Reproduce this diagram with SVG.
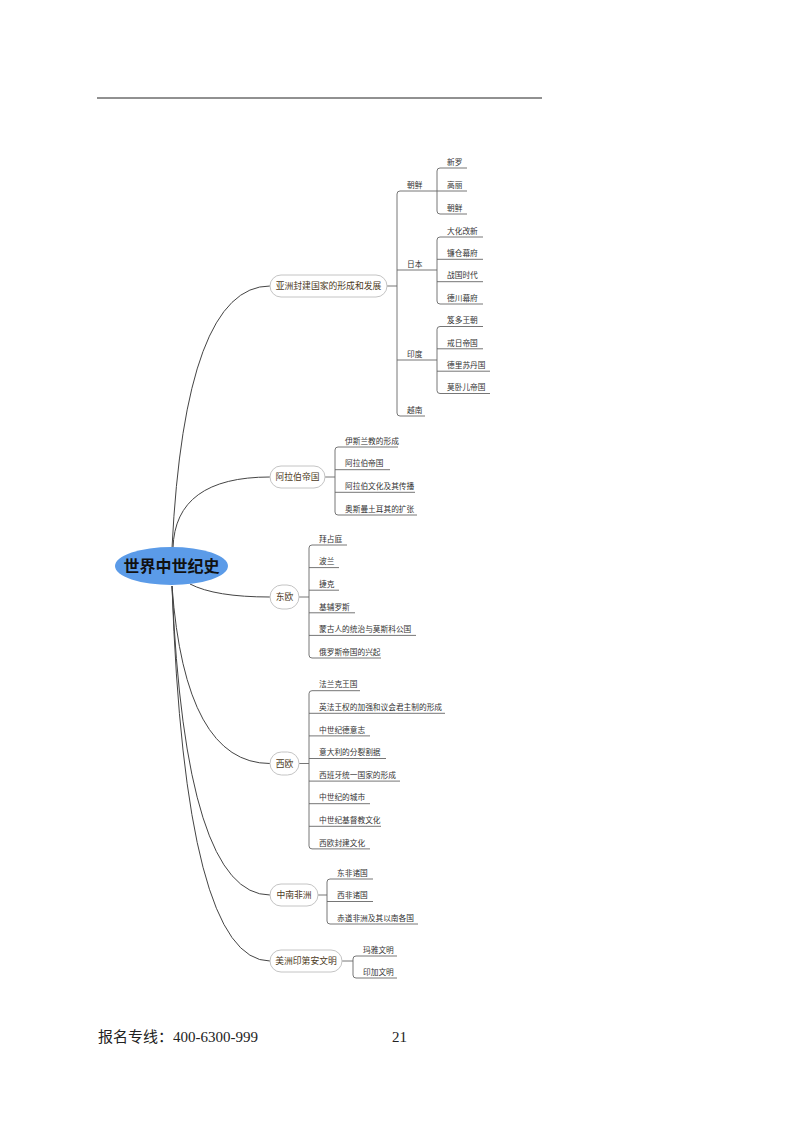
<svg xmlns="http://www.w3.org/2000/svg" width="800" height="1124" viewBox="0 0 800 1124">
<style>
.c{fill:none;stroke:#444;stroke-width:1}
.l{fill:none;stroke:#666;stroke-width:0.9}
.t{font-family:"Noto Sans CJK SC","Noto Sans",sans-serif;font-size:7.7px;fill:#333}
.box{fill:#fff;stroke:#c4c4c4;stroke-width:1}
.bt{font-family:"Noto Sans CJK SC","Noto Sans",sans-serif;font-size:8.8px;fill:#4d3b24;text-anchor:middle}
.rt{font-family:"Noto Sans CJK SC","Noto Sans",sans-serif;font-size:16px;font-weight:bold;fill:#111;text-anchor:middle}
.ft{font-family:"Liberation Serif","Noto Sans CJK SC",serif;font-size:15px;fill:#222}
</style>
<rect width="800" height="1124" fill="#fff"/>
<line x1="97" y1="98" x2="542" y2="98" stroke="#222" stroke-width="1"/>

<g id="connectors">
  <!-- root to branches -->
  <path class="c" d="M172,548 Q185,286 270,286"/>
  <path class="c" d="M173,548 Q175,477 270,477"/>
  <path class="c" d="M190,584 Q215,597 270,597"/>
  <path class="c" d="M172,586 Q185,763.5 270,763.5"/>
  <path class="c" d="M172,586 Q185,895 270,895"/>
  <path class="c" d="M172,586 Q185,961 270,961"/>
  <!-- Asia -->
  <line class="l" x1="387" y1="286" x2="397" y2="286"/>
  <path class="l" d="M400,191 Q397,191 397,194 V413 Q397,416 400,416"/>
  <line class="l" x1="400" y1="191" x2="437" y2="191"/>
  <line class="l" x1="397" y1="270" x2="437" y2="270"/>
  <line class="l" x1="397" y1="360" x2="437" y2="360"/>
  <line class="l" x1="400" y1="416" x2="425" y2="416"/>
  <path class="l" d="M440,168 Q437,168 437,171 V211 Q437,214 440,214"/>
  <line class="l" x1="440" y1="168" x2="467" y2="168"/>
  <line class="l" x1="437" y1="191" x2="467" y2="191"/>
  <line class="l" x1="440" y1="214" x2="467" y2="214"/>
  <path class="l" d="M440,237 Q437,237 437,240 V301 Q437,304 440,304"/>
  <line class="l" x1="440" y1="237" x2="483" y2="237"/>
  <line class="l" x1="437" y1="259.3" x2="483" y2="259.3"/>
  <line class="l" x1="437" y1="281.7" x2="483" y2="281.7"/>
  <line class="l" x1="440" y1="304" x2="483" y2="304"/>
  <path class="l" d="M440,326.5 Q437,326.5 437,329.5 V390.5 Q437,393.5 440,393.5"/>
  <line class="l" x1="440" y1="326.5" x2="483" y2="326.5"/>
  <line class="l" x1="437" y1="348.8" x2="483" y2="348.8"/>
  <line class="l" x1="437" y1="371.2" x2="490" y2="371.2"/>
  <line class="l" x1="440" y1="393.5" x2="490" y2="393.5"/>
  <!-- Arab -->
  <line class="l" x1="325" y1="477" x2="335" y2="477"/>
  <path class="l" d="M338,447 Q335,447 335,450 V512 Q335,515 338,515"/>
  <line class="l" x1="338" y1="447" x2="398" y2="447"/>
  <line class="l" x1="335" y1="469.7" x2="390" y2="469.7"/>
  <line class="l" x1="335" y1="492.3" x2="415" y2="492.3"/>
  <line class="l" x1="338" y1="515" x2="417" y2="515"/>
  <!-- East Europe -->
  <line class="l" x1="299" y1="597" x2="309" y2="597"/>
  <path class="l" d="M312,545 Q309,545 309,548 V655 Q309,658 312,658"/>
  <line class="l" x1="312" y1="545" x2="347" y2="545"/>
  <line class="l" x1="309" y1="567.6" x2="339" y2="567.6"/>
  <line class="l" x1="309" y1="590.2" x2="339" y2="590.2"/>
  <line class="l" x1="309" y1="612.8" x2="355" y2="612.8"/>
  <line class="l" x1="309" y1="635.4" x2="416" y2="635.4"/>
  <line class="l" x1="312" y1="658" x2="381" y2="658"/>
  <!-- West Europe -->
  <line class="l" x1="299" y1="763.5" x2="309" y2="763.5"/>
  <path class="l" d="M312,690.7 Q309,690.7 309,693.7 V845.9 Q309,848.9 312,848.9"/>
  <line class="l" x1="312" y1="690.7" x2="360" y2="690.7"/>
  <line class="l" x1="309" y1="713.3" x2="445" y2="713.3"/>
  <line class="l" x1="309" y1="735.9" x2="370" y2="735.9"/>
  <line class="l" x1="309" y1="758.5" x2="386" y2="758.5"/>
  <line class="l" x1="309" y1="781.1" x2="400" y2="781.1"/>
  <line class="l" x1="309" y1="803.7" x2="370" y2="803.7"/>
  <line class="l" x1="309" y1="826.3" x2="381" y2="826.3"/>
  <line class="l" x1="312" y1="848.9" x2="370" y2="848.9"/>
  <!-- Africa -->
  <line class="l" x1="318" y1="895" x2="327" y2="895"/>
  <path class="l" d="M330,879 Q327,879 327,882 V921 Q327,924 330,924"/>
  <line class="l" x1="330" y1="879" x2="373" y2="879"/>
  <line class="l" x1="327" y1="901.5" x2="373" y2="901.5"/>
  <line class="l" x1="330" y1="924" x2="418" y2="924"/>
  <!-- America -->
  <line class="l" x1="342" y1="961" x2="353" y2="961"/>
  <path class="l" d="M356,956 Q353,956 353,959 V975 Q353,978 356,978"/>
  <line class="l" x1="356" y1="956" x2="397" y2="956"/>
  <line class="l" x1="356" y1="978" x2="397" y2="978"/>
</g>

<g id="root">
  <ellipse cx="171.5" cy="566" rx="56.5" ry="19" fill="#5b9be8"/>
  <text class="rt" x="171.5" y="572">世界中世纪史</text>
</g>

<g id="asia">
  <rect class="box" x="270" y="275" width="117" height="22" rx="11"/>
  <text class="bt" x="328.5" y="289.2">亚洲封建国家的形成和发展</text>
</g>
<g id="korea"><text class="t" x="407" y="187.7">朝鲜</text></g>
<g id="silla"><text class="t" x="447" y="164.7">新罗</text></g>
<g id="goryeo"><text class="t" x="447" y="187.7">高丽</text></g>
<g id="joseon"><text class="t" x="447" y="210.7">朝鲜</text></g>
<g id="japan"><text class="t" x="407" y="266.7">日本</text></g>
<g id="taika"><text class="t" x="447" y="233.7">大化改新</text></g>
<g id="kamakura"><text class="t" x="447" y="256">镰仓幕府</text></g>
<g id="sengoku"><text class="t" x="447" y="278.4">战国时代</text></g>
<g id="tokugawa"><text class="t" x="447" y="300.7">德川幕府</text></g>
<g id="india"><text class="t" x="407" y="356.7">印度</text></g>
<g id="gupta"><text class="t" x="447" y="323.2">笈多王朝</text></g>
<g id="harsha"><text class="t" x="447" y="345.5">戒日帝国</text></g>
<g id="delhi"><text class="t" x="447" y="367.9">德里苏丹国</text></g>
<g id="mughal"><text class="t" x="447" y="390.2">莫卧儿帝国</text></g>
<g id="vietnam"><text class="t" x="407" y="412.7">越南</text></g>

<g id="arab">
  <rect class="box" x="270" y="466" width="55" height="22" rx="11"/>
  <text class="bt" x="297.5" y="480.2">阿拉伯帝国</text>
</g>
<g id="islam"><text class="t" x="345" y="443.7">伊斯兰教的形成</text></g>
<g id="arab-empire"><text class="t" x="345" y="466.4">阿拉伯帝国</text></g>
<g id="arab-culture"><text class="t" x="345" y="489">阿拉伯文化及其传播</text></g>
<g id="ottoman"><text class="t" x="345" y="511.7">奥斯曼土耳其的扩张</text></g>

<g id="east-europe">
  <rect class="box" x="270" y="585" width="29" height="24" rx="12"/>
  <text class="bt" x="284.5" y="600.2">东欧</text>
</g>
<g id="byzantium"><text class="t" x="319" y="541.7">拜占庭</text></g>
<g id="poland"><text class="t" x="319" y="564.3">波兰</text></g>
<g id="czech"><text class="t" x="319" y="586.9">捷克</text></g>
<g id="kievan"><text class="t" x="319" y="609.5">基辅罗斯</text></g>
<g id="mongol"><text class="t" x="319" y="632.1">蒙古人的统治与莫斯科公国</text></g>
<g id="russia"><text class="t" x="319" y="654.7">俄罗斯帝国的兴起</text></g>

<g id="west-europe">
  <rect class="box" x="270" y="752" width="29" height="23" rx="11.5"/>
  <text class="bt" x="284.5" y="766.7">西欧</text>
</g>
<g id="frankish"><text class="t" x="319" y="687.4">法兰克王国</text></g>
<g id="eng-fra"><text class="t" x="319" y="710">英法王权的加强和议会君主制的形成</text></g>
<g id="germany"><text class="t" x="319" y="732.6">中世纪德意志</text></g>
<g id="italy"><text class="t" x="319" y="755.2">意大利的分裂割据</text></g>
<g id="spain"><text class="t" x="319" y="777.8">西班牙统一国家的形成</text></g>
<g id="cities"><text class="t" x="319" y="800.4">中世纪的城市</text></g>
<g id="christian"><text class="t" x="319" y="823">中世纪基督教文化</text></g>
<g id="feudal-culture"><text class="t" x="319" y="845.6">西欧封建文化</text></g>

<g id="africa">
  <rect class="box" x="270" y="884" width="48" height="22" rx="11"/>
  <text class="bt" x="294" y="898.2">中南非洲</text>
</g>
<g id="east-africa"><text class="t" x="337" y="875.7">东非诸国</text></g>
<g id="west-africa"><text class="t" x="337" y="898.2">西非诸国</text></g>
<g id="equatorial"><text class="t" x="337" y="920.7">赤道非洲及其以南各国</text></g>

<g id="america">
  <rect class="box" x="270" y="950" width="72" height="22" rx="11"/>
  <text class="bt" x="306" y="964.2">美洲印第安文明</text>
</g>
<g id="maya"><text class="t" x="363" y="952.7">玛雅文明</text></g>
<g id="inca"><text class="t" x="363" y="974.7">印加文明</text></g>

<g id="footer">
  <text class="ft" x="98" y="1041.5"><tspan font-family="'Noto Sans CJK SC',sans-serif">报名专线：</tspan>400-6300-999</text>
  <text class="ft" x="392" y="1041.5">21</text>
</g>
</svg>
